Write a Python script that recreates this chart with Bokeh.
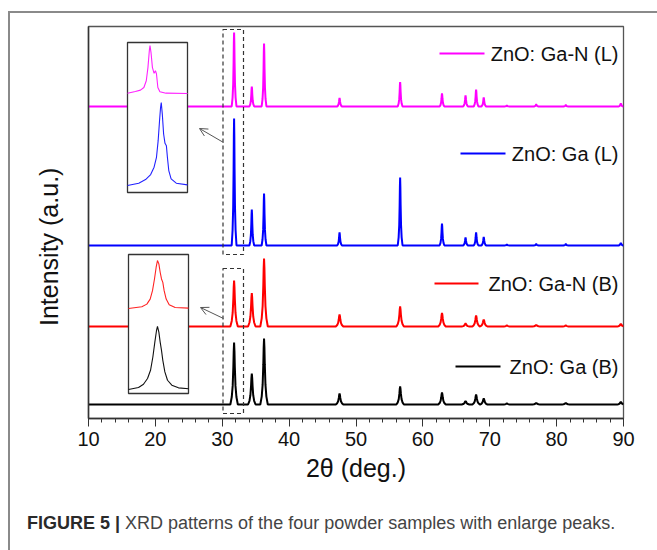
from bokeh.plotting import figure
from bokeh.layouts import column
from bokeh.models import (Range1d, SingleIntervalTicker, Label, Div,
                          Arrow, OpenHead, FixedTicker)
from bokeh.embed import file_html
from bokeh.resources import INLINE

# ---------------- data ----------------
# reflection positions (2theta, deg)
peak_pos = [31.77, 34.42, 36.25, 47.54, 56.60, 62.86, 66.38, 67.96, 69.10, 72.56, 76.95, 81.37, 89.60]
# peak heights (arb. units) per sample
h_gan_L = [74, 20, 63, 8.5, 24.5, 13, 11, 17, 9, 1, 2, 1.5, 3]
h_ga_L = [127, 36, 52, 13, 68, 22, 8, 13, 8.5, 1, 1.5, 1.5, 2.5]
h_gan_B = [46, 33.5, 68, 12, 20, 13.5, 3, 11, 7, 1, 1.5, 1, 2.5]
h_ga_B = [62, 31, 66, 11, 18, 12, 3.5, 10, 6, 1, 1.5, 1.5, 2.5]
series_names = ["ZnO: Ga-N (L)", "ZnO: Ga (L)", "ZnO: Ga-N (B)", "ZnO: Ga (B)"]

# single reflection profile shape (offset in half widths, relative height)
shape_u = [-4, -2.5, -1.5, -0.8, -0.4, 0, 0.4, 0.8, 1.5, 2.5, 4]
shape_f = [0, 0.12, 0.3, 0.6, 0.86, 1, 0.86, 0.6, 0.3, 0.12, 0]

# magnified (101) peak profiles for insets: normalized x / normalized height
ins_gan_L_x = [0, .131, .216, .273, .313, .341, .364, .375, .392, .415, .443, .466, .483, .506, .540, .642, 1.0]
ins_gan_L_y = [.007, .042, .07, .126, .266, .545, .895, 1.0, .853, .545, .42, .476, .406, .126, .035, .007, 0]
ins_ga_L_x = [0, .1875, .301, .386, .443, .483, .511, .534, .551, .5625, .580, .602, .625, .648, .665, .688, .727, .8125, 1.0]
ins_ga_L_y = [0, .028, .072, .132, .22, .34, .54, .78, .94, 1.0, .86, .62, .508, .48, .34, .18, .08, .028, .008]
ins_gan_B_x = [0, .222, .306, .361, .4, .433, .461, .483, .506, .528, .55, .572, .594, .628, .678, .778, 1.0]
ins_gan_B_y = [0, .035, .091, .196, .371, .615, .86, 1.0, .93, .755, .615, .545, .371, .196, .077, .021, .007]
ins_ga_B_x = [0, .167, .25, .317, .367, .406, .439, .467, .483, .506, .528, .55, .572, .606, .65, .722, .833, 1.0]
ins_ga_B_y = [0, .032, .084, .174, .305, .516, .753, .937, 1.0, .91, .753, .621, .463, .279, .147, .068, .026, .011]

x_ticks_interval = 10
x_title = "2θ (deg.)"
y_title = "Intensity (a.u.)"
caption_bold = "FIGURE 5 |"
caption_text = "XRD patterns of the four powder samples with enlarge peaks."

# ---------------- geometry (page pixels) ----------------
XMIN, XMAX = 10, 90
YMIN, YMAX = 0, 392
OX, OY = 10, 13                      # content origin on the page (inside the grey frame)
PFL, PFR, PFT, PFB = 88, 623, 26, 418  # plot frame on the page
W, H = 645, 485

p = figure(width=W, height=H, x_range=Range1d(XMIN, XMAX), y_range=Range1d(YMIN, YMAX),
           output_backend="svg", toolbar_location=None, tools="",
           min_border_left=PFL - OX, min_border_right=W - (PFR - OX),
           min_border_top=PFT - OY, min_border_bottom=H - (PFB - OY))
p.xgrid.visible = False
p.ygrid.visible = False
p.background_fill_color = "white"
p.border_fill_color = "white"
p.outline_line_color = "#555555"
p.outline_line_width = 1.3

xa = p.xaxis[0]
xa.ticker = SingleIntervalTicker(interval=x_ticks_interval, num_minor_ticks=5)
xa.major_tick_out = 8
xa.major_tick_in = 0
xa.minor_tick_out = 4
xa.minor_tick_in = 0
xa.axis_line_color = "#333333"
xa.axis_line_width = 1.5
xa.major_tick_line_color = "#333333"
xa.minor_tick_line_color = "#333333"
xa.major_label_text_font = "Liberation Sans"
xa.major_label_text_font_size = "20px"
xa.major_label_text_color = "#111111"
xa.major_label_standoff = 5
xa.axis_label = x_title
xa.axis_label_text_font = "Liberation Sans"
xa.axis_label_text_font_size = "25px"
xa.axis_label_text_font_style = "normal"
xa.axis_label_text_color = "#111111"
xa.axis_label_standoff = 5

ya = p.yaxis[0]
ya.ticker = FixedTicker(ticks=[])
ya.axis_line_color = "#333333"
ya.axis_line_width = 1.5
ya.major_tick_out = 0
ya.minor_tick_out = 0
ya.major_tick_line_color = None
ya.minor_tick_line_color = None
ya.major_label_text_font_size = "0px"
ya.axis_label = y_title + "\u00a0" * 7   # nudges the centred title down as in the original
ya.axis_label_text_font = "Liberation Sans"
ya.axis_label_text_font_size = "25px"
ya.axis_label_text_font_style = "normal"
ya.axis_label_text_color = "#111111"
ya.axis_label_standoff = 26


def px2x(px):
    return XMIN + (px - PFL) * (XMAX - XMIN) / float(PFR - PFL)


def py2y(py):
    return YMIN + (PFB - py) * (YMAX - YMIN) / float(PFB - PFT)


def pattern(heights, hw):
    xs = [XMIN]
    ys = [0.0]
    for pos, h in zip(peak_pos, heights):
        for u, f in zip(shape_u, shape_f):
            xx = pos + u * hw
            if xx <= XMAX:
                xs.append(xx)
                ys.append(h * f)
    xs.append(XMAX)
    ys.append(0.0)
    return xs, ys


colors = ["#ff00ff", "#0000ff", "#ff0000", "#000000"]
heights = [h_gan_L, h_ga_L, h_gan_B, h_ga_B]
halfw = [0.09, 0.09, 0.14, 0.14]
offsets = [312, 173, 92, 14]
for hs, c, hw, off in zip(heights, colors, halfw, offsets):
    xs, ys = pattern(hs, hw)
    p.line(xs, [y + off for y in ys], line_color=c, line_width=2)

# legend entries: sample line + text
leg_line = [(439, 484, 53), (460, 505, 153), (434, 478, 283), (455, 500, 366)]
for name, c, (a, b, yy) in zip(series_names, colors, leg_line):
    p.line([px2x(a), px2x(b)], [py2y(yy), py2y(yy)], line_color=c, line_width=1.8)
    p.add_layout(Label(x=px2x(618), y=py2y(yy), text=name, text_align="right",
                       text_baseline="middle", text_font="Liberation Sans",
                       text_font_size="20px", text_color="#111111"))


# insets
def inset(box, curves):
    l, r, t, b = box
    p.quad(left=[px2x(l)], right=[px2x(r)], top=[py2y(t)], bottom=[py2y(b)],
           fill_color="white", line_color="#333333", line_width=1.3)
    for xs, ys, c, base, hgt in curves:
        X = [px2x(l + x * (r - l)) for x in xs]
        Y = [py2y(base) + y * hgt for y in ys]
        p.line(X, Y, line_color=c, line_width=1.1)


inset((127, 187, 42, 192), [(ins_gan_L_x, ins_gan_L_y, "#ff22ff", 93, 48),
                            (ins_ga_L_x, ins_ga_L_y, "#2222ff", 185, 83)])
inset((128, 188, 254, 393), [(ins_gan_B_x, ins_gan_B_y, "#ff2222", 308, 48),
                             (ins_ga_B_x, ins_ga_B_y, "#111111", 389, 63)])

# dashed selection boxes
for t, b in [(29, 254), (268, 413)]:
    p.quad(left=[px2x(222.5)], right=[px2x(243)], top=[py2y(t)], bottom=[py2y(b)],
           fill_color=None, line_color="#333333", line_width=1.2, line_dash="4 3")

# arrows
for (x0, y0, x1, y1) in [(223, 142, 199, 128), (223, 318, 200, 307)]:
    p.add_layout(Arrow(end=OpenHead(size=8, line_color="#555555", line_width=1),
                       x_start=px2x(x0), y_start=py2y(y0), x_end=px2x(x1), y_end=py2y(y1),
                       line_color="#555555", line_width=1))

# caption
cap = Div(text='<span style="font-weight:bold;color:#2a2a2a">%s</span> %s' % (caption_bold, caption_text),
          width=W, height=550 - OY - H - 2,
          styles={"font-family": "'Liberation Sans', Arial, sans-serif", "font-size": "18px",
                  "color": "#444444", "padding-left": "%dpx" % (22 - OX), "padding-top": "10px",
                  "line-height": "21px", "box-sizing": "border-box"})

layout = column(p, cap, spacing=0,
                styles={"margin-left": "8px", "margin-top": "11px",
                        "border-left": "2px solid #8a8a8a", "border-top": "2px solid #8a8a8a"})

open("out.html", "w").write(file_html(layout, INLINE))
